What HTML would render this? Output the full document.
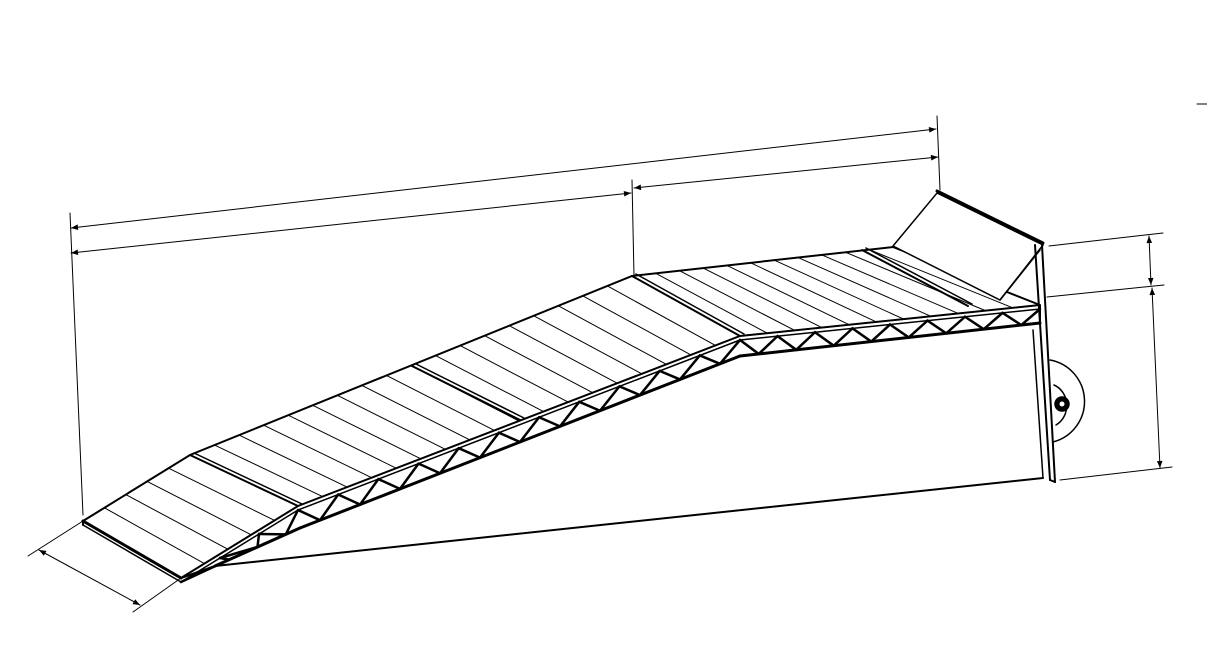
<!DOCTYPE html>
<html><head><meta charset="utf-8"><style>html,body{margin:0;padding:0;background:#fff;width:1207px;height:648px;overflow:hidden}</style></head>
<body>
<svg id="s" width="1207" height="648" viewBox="0 0 1207 648" xmlns="http://www.w3.org/2000/svg" stroke="#000" fill="none" stroke-linecap="round">
<defs>
<marker id="a" viewBox="0 0 10 10" refX="10" refY="5" markerWidth="9" markerHeight="7" orient="auto-start-reverse" markerUnits="userSpaceOnUse"><path d="M0,1 L10,5 L0,9 z" fill="#000" stroke="none"/></marker>
</defs>
<g stroke-width="1">
<line x1="70" y1="213" x2="83" y2="515"/>
<line x1="632" y1="180" x2="634" y2="276"/>
<line x1="937" y1="116" x2="940" y2="190"/>
<line x1="71" y1="228" x2="936" y2="129" marker-start="url(#a)" marker-end="url(#a)"/>
<line x1="71" y1="253" x2="631" y2="193" marker-start="url(#a)" marker-end="url(#a)"/>
<line x1="634" y1="188" x2="938" y2="157" marker-start="url(#a)" marker-end="url(#a)"/>
<line x1="28" y1="556" x2="83" y2="521"/>
<line x1="133" y1="612" x2="181" y2="578"/>
<line x1="39" y1="550" x2="140" y2="605" marker-start="url(#a)" marker-end="url(#a)"/>
<line x1="1049" y1="246" x2="1163" y2="233"/>
<line x1="1047" y1="297" x2="1164" y2="285"/>
<line x1="1060" y1="480" x2="1172" y2="467"/>
<line x1="1149" y1="236" x2="1151" y2="285" marker-start="url(#a)" marker-end="url(#a)"/>
<line x1="1152" y1="288" x2="1160" y2="468" marker-start="url(#a)" marker-end="url(#a)"/>
<line x1="1197" y1="104" x2="1207" y2="104"/>
</g>
<g id="g"></g>
<g stroke-width="1.5">
<polygon points="893,246 937,193 1043,245 1000,300" fill="#fff"/>
<line x1="937" y1="191" x2="1043" y2="243" stroke-width="3"/>
<line x1="1000" y1="300" x2="1040" y2="250"/>
<line x1="1035" y1="245" x2="1050" y2="480" stroke-width="2"/>
<line x1="1042" y1="245" x2="1055" y2="482" stroke-width="2"/>
<line x1="1050" y1="480" x2="1055" y2="482" stroke-width="2"/>
<line x1="1033" y1="330" x2="1043" y2="478" stroke-width="1.5"/>
<path d="M1050,360 A42,42 0 0 1 1053,442" stroke-width="1.5"/>
<path d="M1054,385 A20,22 0 0 1 1056,425" stroke-width="1.5"/>
<circle cx="1062" cy="404" r="7" fill="#000"/>
<circle cx="1062" cy="404" r="2.5" fill="#fff" stroke="none"/>
<line x1="215" y1="566" x2="1043" y2="478" stroke-width="2"/>
</g>
</svg>
<script>
var g=document.getElementById('g'),NS='http://www.w3.org/2000/svg';
function L(a,b,c,d,w){var e=document.createElementNS(NS,'line');e.setAttribute('x1',a);e.setAttribute('y1',b);e.setAttribute('x2',c);e.setAttribute('y2',d);e.setAttribute('stroke-width',w||1);g.appendChild(e);}
function P(pts,w,f){var e=document.createElementNS(NS,'polygon');e.setAttribute('points',pts.map(function(p){return p.join(',')}).join(' '));e.setAttribute('stroke-width',w||1);if(f)e.setAttribute('fill',f);g.appendChild(e);}
function lp(a,b,t){return [a[0]+(b[0]-a[0])*t,a[1]+(b[1]-a[1])*t];}
var B=[[83,521],[190,455],[632,276],[893,247]],F=[[181,578],[298,506],[740,336],[1040,305]];
var D=[[215,566],[300,528],[740,356],[1040,323]];
var N=[5,18,11],T=[3,11,8];
P(B.concat(F.slice().reverse()),2,'#fff');
for(var s=0;s<3;s++){
 var b0=B[s],b1=B[s+1],f0=F[s],f1=F[s+1];
 for(var i=1;i<N[s];i++){var t=i/N[s];var p=lp(b0,b1,t),q=lp(f0,f1,t);L(p[0],p[1],q[0],q[1],1);}
 var d0=D[s],d1=D[s+1];
 var n=T[s];
 for(var i=0;i<n;i++){var t0=i/n,t1=(i+0.5)/n,t2=(i+1)/n;
  var a=lp(f0,f1,t0),m=lp(d0,d1,t1),c=lp(f0,f1,t2);
  L(a[0],a[1]+4,m[0],m[1],2.5);L(m[0],m[1],c[0],c[1]+4,2.5);}
 L(f0[0],f0[1]+4,f1[0],f1[1]+4,1.5);
 L(d0[0],d0[1],d1[0],d1[1],3);
}
[[[190,455],[298,506]],[[412,366],[520,420]],[[632,276],[740,336]],[[862,250],[968,306]]].forEach(function(d){
 L(d[0][0],d[0][1],d[1][0],d[1][1],2);L(d[0][0]+4,d[0][1]-2,d[1][0]+4,d[1][1]-2,1.5);});
L(83,521,181,578,3);L(83,521,83,525,2);L(83,525,181,582,1.5);
L(181,578,215,566,2);L(1040,305,1040,323,2);
</script>
</body></html>
